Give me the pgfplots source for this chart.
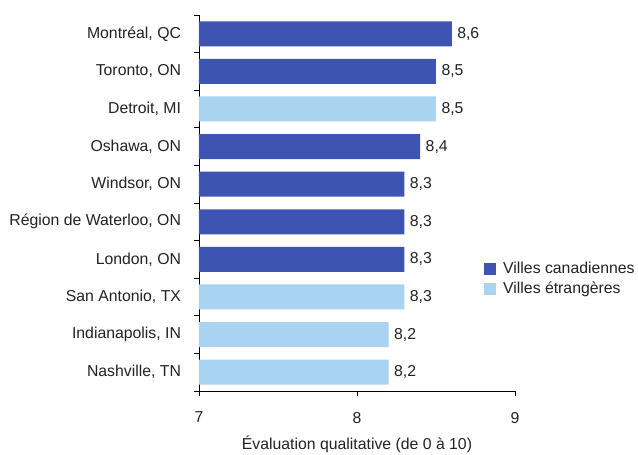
\documentclass[border=0pt]{standalone}
\usepackage{fontspec}
\setmainfont{Liberation Sans}
\usepackage{pgfplots}
\pgfplotsset{compat=1.18}
\definecolor{canblue}{HTML}{3D54B2}
\definecolor{forblue}{HTML}{A8D3F1}
\definecolor{txt}{HTML}{222222}
\pgfplotsset{/pgf/number format/assume math mode=true}
\begin{document}
\begin{tikzpicture}
\useasboundingbox (-199bp,-64bp) rectangle (439bp,391bp);
\begin{axis}[
  at={(0,0)}, anchor=south west,
  scale only axis, width=316bp, height=376bp,
  font=\fontsize{15.8bp}{18bp}\selectfont,
  text=txt,
  xmin=7, xmax=9, ymin=-0.5, ymax=9.5,
  axis x line*=bottom, axis y line*=left,
  axis line style={black, line width=0.9bp, -},
  xtick={7,8,9},
  ytick={0,...,9},
  yticklabels={{Nashville, TN},{Indianapolis, IN},{San Antonio, TX},{London, ON},{Région de Waterloo, ON},{Windsor, ON},{Oshawa, ON},{Detroit, MI},{Toronto, ON},{Montréal, QC}},
  minor ytick={-0.5,0.5,...,9.5},
  major y tick style={draw=none},
  minor y tick style={black, line width=0.8bp},
  major x tick style={black, line width=0.8bp},
  tick align=outside,
  major tick length=4.5bp, minor tick length=5bp,
  tick label style={font=\fontsize{15.8bp}{18bp}\selectfont, text=txt},
  yticklabel style={anchor=east, xshift=-10bp},
  xticklabel style={anchor=north, yshift=-13bp},
  xlabel={Évaluation qualitative (de 0 à 10)},
  xlabel style={at={(axis description cs:0.5,0)}, anchor=base, yshift=-58bp, font=\fontsize{15.8bp}{18bp}\selectfont, text=txt},
  xbar, bar width=25bp, bar shift=0pt,
  nodes near coords={\pgfmathprintnumber[fixed,fixed zerofill,precision=1,use comma]{\pgfplotspointmeta}},
  nodes near coords style={anchor=west, xshift=2bp, font=\fontsize{15.8bp}{18bp}\selectfont, text=txt},
  legend style={at={(axis description cs:0.902,0.299)}, anchor=west, draw=none, fill=none, inner sep=0pt, row sep=3bp, font=\fontsize{15.8bp}{18bp}\selectfont, text=txt},
  legend cell align=left,
  area legend,
  legend image code/.code={\fill[#1] (0bp,-6bp) rectangle (12bp,6bp); \path (17bp,0bp);},
]
\addplot[fill=canblue, draw=none] coordinates {(8.6,9) (8.5,8) (8.4,6) (8.3,5) (8.3,4) (8.3,3)};
\addplot[fill=forblue, draw=none] coordinates {(8.5,7) (8.3,2) (8.2,1) (8.2,0)};
\legend{Villes canadiennes, Villes étrangères}
\end{axis}
\end{tikzpicture}
\end{document}
